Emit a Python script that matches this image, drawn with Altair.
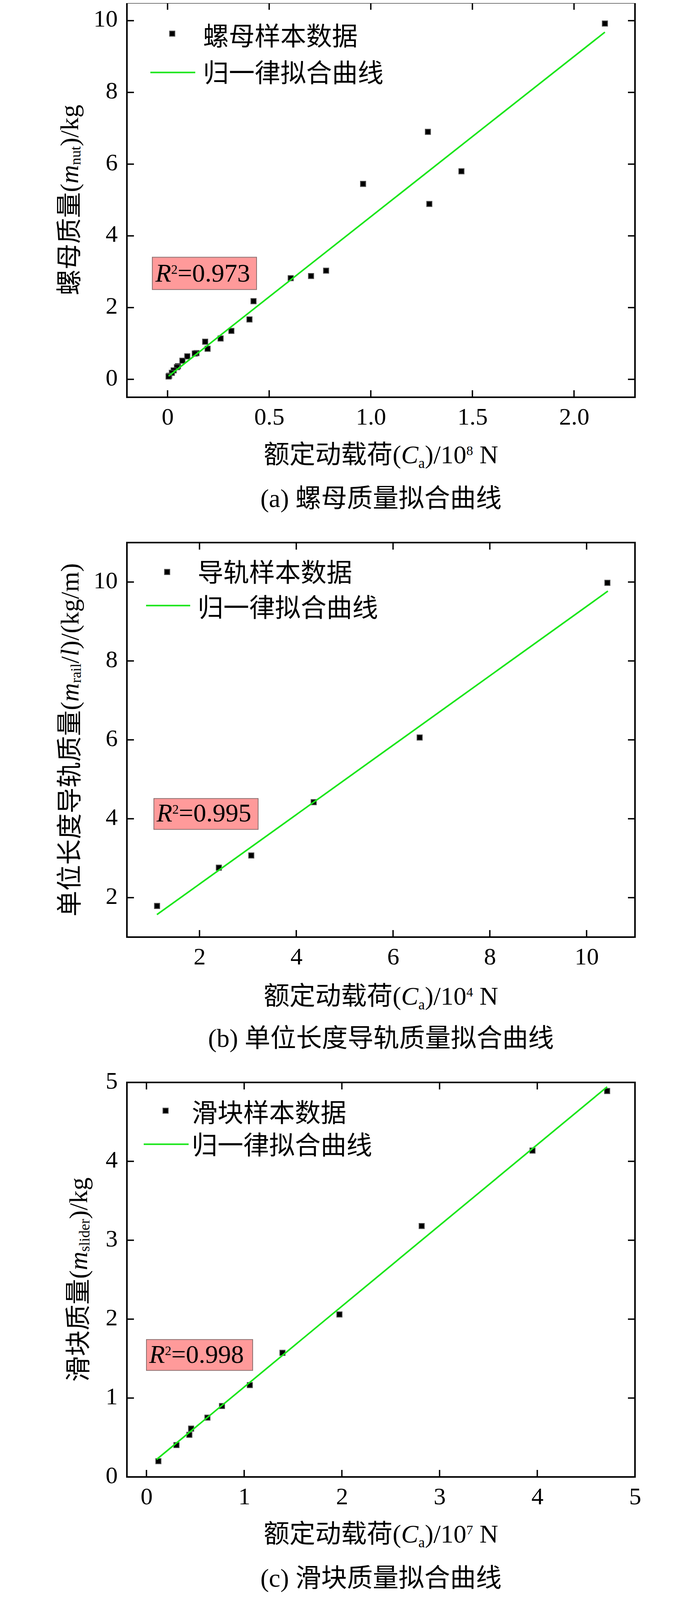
import altair as alt
import pandas as pd

# ---------------- data ----------------
# (a) nut
a_x = [2.152, 1.281, 1.446, 0.962, 1.288, 0.780, 0.706, 0.606, 0.423, 0.403,
       0.314, 0.261, 0.185, 0.197, 0.142, 0.134, 0.097, 0.073, 0.051, 0.046,
       0.030, 0.021, 0.008, 0.005]
a_y = [9.92, 6.90, 5.80, 5.45, 4.89, 3.03, 2.88, 2.82, 2.18, 1.67,
       1.35, 1.14, 1.05, 0.854, 0.73, 0.72, 0.64, 0.52, 0.365, 0.34,
       0.25, 0.18, 0.10, 0.08]
a_fit_x = [0.005, 2.152]
a_fit_y = [0.09, 9.68]
a_xticks = [0, 0.5, 1.0, 1.5, 2.0]
a_yticks = [0, 2, 4, 6, 8, 10]
a_xdomain = [-0.2, 2.3]
a_ydomain = [-0.5, 10.5]

# (b) rail
b_x = [1.123, 2.40, 3.07, 4.36, 6.55, 10.43]
b_y = [1.79, 2.76, 3.07, 4.42, 6.06, 9.98]
b_fit_x = [1.12, 10.44]
b_fit_y = [1.57, 9.77]
b_xticks = [2, 4, 6, 8, 10]
b_yticks = [2, 4, 6, 8, 10]
b_xdomain = [0.5, 11]
b_ydomain = [1, 11]

# (c) slider
c_x = [0.122, 0.307, 0.439, 0.457, 0.624, 0.773, 1.058, 1.392, 1.975, 2.817, 3.951, 4.715]
c_y = [0.20, 0.404, 0.534, 0.613, 0.752, 0.899, 1.164, 1.573, 2.059, 3.180, 4.136, 4.891]
c_fit_x = [0.104, 4.715]
c_fit_y = [0.222, 4.944]
c_xticks = [0, 1, 2, 3, 4, 5]
c_yticks = [0, 1, 2, 3, 4, 5]
c_xdomain = [-0.2, 5]
c_ydomain = [0, 5]

legend_point_labels = ["螺母样本数据", "导轨样本数据", "滑块样本数据"]
legend_line_label = "归一律拟合曲线"
captions = ["(a) 螺母质量拟合曲线", "(b) 单位长度导轨质量拟合曲线", "(c) 滑块质量拟合曲线"]
r2_values = ["=0.973", "=0.995", "=0.998"]
x_exponents = ["8", "4", "7"]
y_subs = ["nut", "rail", "slider"]

# ---------------- styling / layout ----------------
KY = 0.965                      # vertical layout factor so everything fits the page
W = 1301
H = round(1047 * KY)
SPACING = round(385 * KY)
TICK = 18
GREEN = "#1ae61a"
FONT = "'Liberation Serif', 'Noto Sans CJK SC'"
F = 66          # title font size
LF = 62         # tick label font size

REG = {' ': 250, '(': 333, ')': 333, '/': 278, '.': 250, '=': 564, 'N': 722,
       'a': 444, 'b': 500, 'c': 444, 'd': 500, 'e': 444, 'g': 500, 'i': 278,
       'k': 500, 'l': 278, 'm': 778, 'n': 500, 'r': 333, 's': 389, 't': 278, 'u': 500}
ITA = {'C': 667, 'R': 611, 'm': 722, 'l': 278}

one = pd.DataFrame({"k": [0]})


def vy(v):
    return v * KY


def pw(text, size, italic):
    w = 0.0
    for ch in text:
        if ord(ch) >= 0x2E80:
            w += size
        elif ch.isdigit():
            w += 0.5 * size
        else:
            w += (ITA if italic else REG).get(ch, 500) / 1000.0 * size
    return w


def txt(text, x, y, size, italic=False, angle=0, align="left"):
    kw = dict(text=text, font=FONT, fontSize=size, align=align,
              baseline="alphabetic", color="black")
    if italic:
        kw["fontStyle"] = "italic"
    if angle:
        kw["angle"] = angle
    return alt.Chart(one).mark_text(**kw).encode(x=alt.value(x), y=alt.value(y))


def rich(pieces, x0, y0, vertical=False, center=True):
    total = sum(pw(t, F * r, it) for t, r, it, s in pieces)
    layers = []
    cum = 0.0
    if vertical:
        start = y0 + total / 2 if center else y0
    else:
        start = x0 - total / 2 if center else x0
    for t, r, it, s in pieces:
        size = F * r
        lead = len(t) - len(t.lstrip(" "))
        adv = pw(" " * lead, size, False)
        shown = t.lstrip(" ")
        if vertical:
            layers.append(txt(shown, x0 - s, start - cum - adv, size, it, angle=270))
        else:
            layers.append(txt(shown, start + cum + adv, y0 - s, size, it))
        cum += pw(t, size, it)
    return layers


def label_axis(orient, values, expr=None):
    kw = dict(orient=orient, values=values, ticks=False, tickSize=0, domain=False,
              grid=False, labels=True, labelFont="Liberation Serif", labelFontSize=LF,
              labelColor="black", labelFlush=False, labelOverlap=False)
    if orient == "left":
        kw.update(labelPadding=24, labelOffset=-4)
    else:
        kw.update(labelPadding=20)
    if expr:
        kw["labelExpr"] = expr
    return alt.Axis(**kw)


def tick_layers(xt, yt, xs, ys):
    dx = pd.DataFrame({"v": xt})
    dy = pd.DataFrame({"v": yt})
    style = dict(color="black", strokeWidth=3.5)
    xe = alt.X("v:Q", scale=xs, axis=None)
    ye = alt.Y("v:Q", scale=ys, axis=None)
    return [
        alt.Chart(dx).mark_rule(**style).encode(x=xe, y=alt.value(H), y2=alt.value(H - TICK)),
        alt.Chart(dx).mark_rule(**style).encode(x=xe, y=alt.value(0), y2=alt.value(TICK)),
        alt.Chart(dy).mark_rule(**style).encode(y=ye, x=alt.value(0), x2=alt.value(TICK)),
        alt.Chart(dy).mark_rule(**style).encode(y=ye, x=alt.value(W), x2=alt.value(W - TICK)),
    ]


def panel(i, px, py, fx, fy, xt, yt, xd, yd, xexpr, ytitle_pieces, ybase,
          leg, box, xbase):
    xs = alt.Scale(domain=xd, nice=False, zero=False)
    ys = alt.Scale(domain=yd, nice=False, zero=False)
    pts = pd.DataFrame({"x": px, "y": py})
    fit = pd.DataFrame({"x": fx, "y": fy})

    points = alt.Chart(pts).mark_square(size=180, fill="black", stroke="#4d4d4d",
                                         strokeWidth=2, opacity=1).encode(
        x=alt.X("x:Q", scale=xs, axis=label_axis("bottom", xt, xexpr), title=None),
        y=alt.Y("y:Q", scale=ys, axis=label_axis("left", yt), title=None),
    )
    line = alt.Chart(fit).mark_line(color=GREEN, strokeWidth=4).encode(
        x=alt.X("x:Q", scale=xs, axis=None),
        y=alt.Y("y:Q", scale=ys, axis=None),
    )

    ann = tick_layers(xt, yt, xs, ys)
    # x title (baseline measured below the plot bottom in the reference)
    ann += rich([("额定动载荷(", 1, False, 0), ("C", 1, True, 0), ("a", 0.57, False, -12),
                 (")/10", 1, False, 0), (x_exponents[i], 0.52, False, 21), (" N", 1, False, 0)],
                W / 2, H + vy(xbase))
    # y title
    ann += rich(ytitle_pieces, ybase, H / 2, vertical=True)
    # caption
    ann.append(txt(captions[i], W / 2, H + vy(291), F, align="center"))
    # R^2 box
    bx0, bx1, by0, by1, tx, tb = box
    ann.append(alt.Chart(one).mark_rect(fill="#ff9a9a", stroke="#8c7070", strokeWidth=2).encode(
        x=alt.value(bx0), x2=alt.value(bx1), y=alt.value(vy(by0)), y2=alt.value(vy(by1))))
    ann += rich([("R", 1, True, 0), ("2", 0.5, False, 20), (r2_values[i], 1, False, 0)],
                tx, vy(tb), center=False)
    # legend
    mx, my, lx0, lx1, ly, labx, b1, b2 = leg
    ann.append(alt.Chart(one).mark_square(size=180, fill="black", stroke="#4d4d4d",
                                          strokeWidth=2, opacity=1).encode(
        x=alt.value(mx), y=alt.value(vy(my))))
    ann.append(alt.Chart(one).mark_rule(color=GREEN, strokeWidth=4).encode(
        x=alt.value(lx0), x2=alt.value(lx1), y=alt.value(vy(ly))))
    ann.append(txt(legend_point_labels[i], labx, vy(b1), F))
    ann.append(txt(legend_line_label, labx, vy(b2), F))

    return alt.layer(points, line, *ann).resolve_axis(
        x="independent", y="independent").properties(width=W, height=H)


pa = panel(0, a_x, a_y, a_fit_x, a_fit_y, a_xticks, a_yticks, a_xdomain, a_ydomain,
           "datum.value == 0 ? '0' : format(datum.value, '.1f')",
           [("螺母质量(", 1, False, 0), ("m", 1, True, 0), (y_subs[0], 0.57, False, -6),
            (")/kg", 1, False, 0)], -125,
           (116, 82, 60, 175, 185, 195, 113, 210),
           (65, 332, 675, 761, 73, 740), 175)
pb = panel(1, b_x, b_y, b_fit_x, b_fit_y, b_xticks, b_yticks, b_xdomain, b_ydomain, None,
           [("单位长度导轨质量(", 1, False, 0), ("m", 1, True, 0), (y_subs[1], 0.57, False, -6),
            ("/", 1, False, 0), ("l", 1, True, 0), (")/(kg/m)", 1, False, 0)], -124,
           (103, 78, 49, 162, 167, 181, 104, 197),
           (69, 336, 679, 761, 76, 740), 179)
pc = panel(2, c_x, c_y, c_fit_x, c_fit_y, c_xticks, c_yticks, c_xdomain, c_ydomain, None,
           [("滑块质量(", 1, False, 0), ("m", 1, True, 0), (y_subs[2], 0.57, False, -6),
            (")/kg", 1, False, 0)], -102,
           (99, 75, 43, 158, 164, 166, 105, 191),
           (50, 322, 682, 764, 57, 744), 174)

chart = alt.vconcat(pa, pb, pc, spacing=SPACING, bounds="flush").properties(
    padding={"left": 136, "top": -5, "right": 5, "bottom": 20}
).configure_view(stroke="black", strokeWidth=4)

chart.save("out.html", embed_options={"renderer": "svg", "actions": False})
